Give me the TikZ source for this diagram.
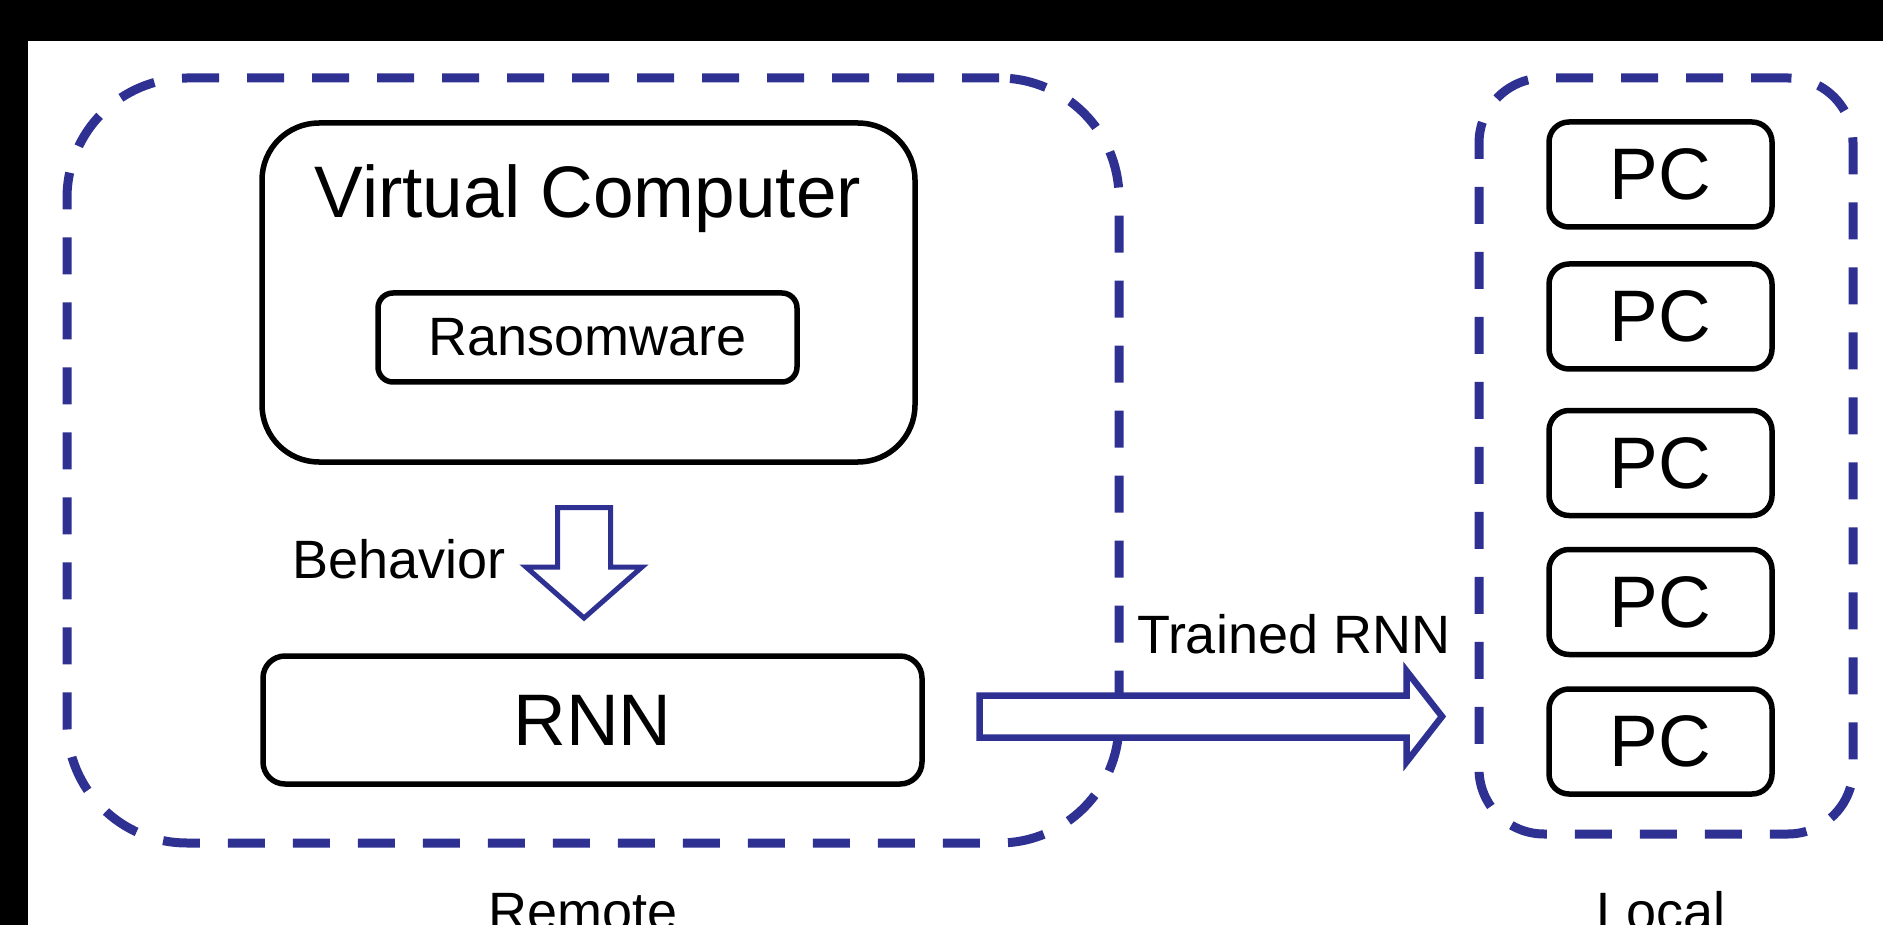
\documentclass[tikz,border=0pt]{standalone}
\usepackage{fontspec}
\setmainfont{Liberation Sans}
\definecolor{navy}{RGB}{46,49,146}
\newcommand\bigtxt{\fontsize{73pt}{80pt}\selectfont}
\newcommand\midtxt{\fontsize{54pt}{60pt}\selectfont}
\begin{document}
\begin{tikzpicture}[x=1pt,y=-1pt,
  box/.style={draw=black, line width=5.5pt, rounded corners=#1, inner sep=0pt, outer sep=0pt, fill=white},
  dbox/.style={draw=navy, line width=9pt, dash pattern=on 37pt off 28pt, inner sep=0pt, outer sep=0pt},
  blockarrow/.style={draw=navy, fill=white, line width=#1, line join=miter},
  lbl/.style={inner sep=0pt, outer sep=0pt}]
\useasboundingbox (0,0) rectangle (1883,925);
\clip (0,0) rectangle (1883,925);
\fill[white] (0,0) rectangle (1883,925);
% black bands
\fill[black] (0,0) rectangle (1883,41);
\fill[black] (0,0) rectangle (28,925);
% containers
\node[dbox, minimum width=1052pt, minimum height=765pt, rounded corners=120pt] (remote) at (593,460.5) {};
\node[dbox, minimum width=374pt, minimum height=756pt, rounded corners=65pt] (local) at (1666,456) {};
% virtual computer
\node[box=57pt, minimum width=653pt, minimum height=339pt] (vc) at (588.5,292.5) {};
\node[lbl, font=\bigtxt, anchor=base] (vct) at (588,218) {Virtual Computer};
\node[box=15pt, minimum width=419pt, minimum height=89pt, font=\midtxt] (rw) at (587.5,337.5) {Ransomware};
% behavior arrow
\draw[blockarrow=5pt] (557.5,507.5) -- (610.5,507.5) -- (610.5,567) -- (642,567) -- (584,618) -- (526,567) -- (557.5,567) -- cycle;
\node[lbl, font=\midtxt, anchor=base west] (beh) at (292,578) {Behavior};
% RNN
\node[box=22pt, minimum width=659pt, minimum height=128pt, font=\bigtxt] (rnn) at (592.5,720) {RNN};
% trained RNN arrow
\draw[blockarrow=6.5pt] (979.5,695.5) -- (1406.5,695.5) -- (1406.5,671) -- (1442,716.5) -- (1406.5,762) -- (1406.5,737.5) -- (979.5,737.5) -- cycle;
\node[lbl, font=\midtxt, anchor=base west] (trn) at (1137,653) {Trained RNN};
% PCs
\foreach \i/\y in {1/174.5, 2/316.5, 3/463, 4/602, 5/741.5} {
  \node[box=20pt, minimum width=223pt, minimum height=105pt, font=\bigtxt] (pc\i) at (1660.5,\y) {PC};
}
% labels
\node[lbl, font=\midtxt, anchor=base] (remlbl) at (583,930) {Remote};
\node[lbl, font=\midtxt, anchor=base] (loclbl) at (1661,930) {Local};
\end{tikzpicture}
\end{document}
